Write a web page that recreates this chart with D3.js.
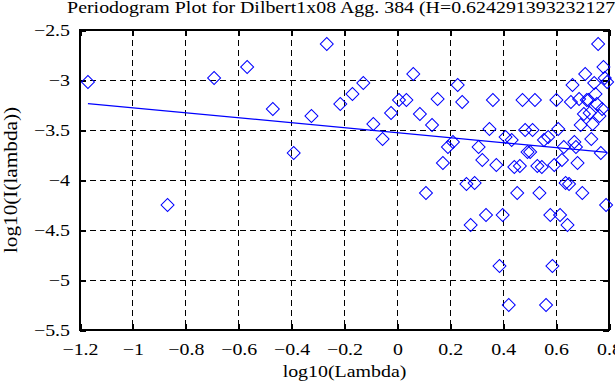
<!DOCTYPE html>
<html>
<head>
<title>Periodogram Plot</title>
<script src="https://d3js.org/d3.v7.min.js"></script>
<style>
  body { margin: 0; background: #fff; }
  text { font-family: "Liberation Serif", "Times New Roman", serif; fill: #000; }
</style>
</head>
<body>
<svg id="chart" width="615" height="385"></svg>
<script>
// log10 of the Fourier frequencies (k = 1..92)
const logLambda = [
  -1.170, -0.869, -0.693, -0.568, -0.471, -0.392, -0.325, -0.267, -0.216, -0.170,
  -0.129, -0.091, -0.056, -0.024, 0.006, 0.034, 0.060, 0.085, 0.108, 0.131,
  0.152, 0.172, 0.191, 0.210, 0.228, 0.245, 0.261, 0.277, 0.292, 0.307,
  0.321, 0.335, 0.348, 0.361, 0.374, 0.386, 0.398, 0.409, 0.421, 0.432,
  0.442, 0.453, 0.463, 0.473, 0.483, 0.492, 0.502, 0.511, 0.520, 0.529,
  0.537, 0.546, 0.554, 0.562, 0.570, 0.578, 0.586, 0.593, 0.601, 0.608,
  0.615, 0.622, 0.629, 0.636, 0.643, 0.649, 0.656, 0.662, 0.669, 0.675,
  0.681, 0.687, 0.693, 0.699, 0.705, 0.710, 0.716, 0.722, 0.727, 0.733,
  0.738, 0.744, 0.749, 0.754, 0.759, 0.764, 0.769, 0.774, 0.779, 0.784,
  0.789, 0.793
];

// log10 of the periodogram values
const logI = [
  -3.02, -4.25, -2.98, -2.87, -3.29, -3.73, -3.36, -2.64, -3.24, -3.14,
  -3.03, -3.44, -3.59, -3.33, -3.20, -3.20, -2.94, -3.34, -4.13, -3.45,
  -3.19, -3.83, -3.67, -3.62, -3.05, -3.22, -4.04, -4.45, -4.03, -3.67,
  -3.80, -4.35, -3.49, -3.20, -3.85, -4.86, -4.35, -3.57, -5.25, -3.60,
  -3.87, -4.13, -3.86, -3.20, -3.50, -3.72, -3.72, -3.50, -3.20, -3.86,
  -4.13, -3.87, -3.60, -5.25, -3.57, -4.35, -4.86, -3.85, -3.20, -3.49,
  -4.35, -3.80, -3.67, -4.03, -4.45, -4.04, -3.22, -3.05, -3.62, -3.67,
  -3.83, -3.19, -3.45, -4.13, -3.34, -2.94, -3.20, -3.20, -3.33, -3.59,
  -3.44, -3.03, -3.14, -3.24, -2.64, -3.36, -3.73, -3.29, -2.87, -2.98,
  -4.25, -3.02
];

const xTicks = [-1.2, -1, -0.8, -0.6, -0.4, -0.2, 0, 0.2, 0.4, 0.6, 0.8];
const yTicks = [-5.5, -5, -4.5, -4, -3.5, -3, -2.5];

// least squares fit (slope = 1 - 2H)
const fitIntercept = -3.527;
const fitSlope = -0.2486;

const titleText = "Periodogram Plot for Dilbert1x08 Agg. 384 (H=0.624291393232127)";
const xLabel = "log10(Lambda)";
const yLabel = "log10(I(lambda))";

const plotLeft = 80, plotRight = 609, plotTop = 30, plotBottom = 330;
const stretch = 1.17;   // glyphs in the picture are a bit wider than tall

const svg = d3.select('#chart');

const x = d3.scaleLinear().domain([-1.2, 0.8]).range([plotLeft, plotRight]);
const y = d3.scaleLinear().domain([-5.5, -2.5]).range([plotBottom, plotTop]);

const fmt = d => (d < 0 ? '\u2212' : '') + Math.abs(+d.toFixed(1));

// dashed grid
const grid = svg.append('g')
    .attr('stroke', '#000')
    .attr('stroke-width', 1)
    .attr('stroke-dasharray', '6,4')
    .attr('shape-rendering', 'crispEdges');
grid.selectAll('line.vx')
    .data(xTicks.slice(1, -1))
    .join('line')
    .attr('class', 'vx')
    .attr('x1', d => x(d)).attr('x2', d => x(d))
    .attr('y1', plotTop).attr('y2', plotBottom);
grid.selectAll('line.hy')
    .data(yTicks.slice(1, -1))
    .join('line')
    .attr('class', 'hy')
    .attr('y1', d => y(d)).attr('y2', d => y(d))
    .attr('x1', plotLeft).attr('x2', plotRight);

// axes with inward ticks
function styleAxis(g) {
    g.attr('font-size', null).attr('font-family', null);
    g.select('.domain').remove();
    g.selectAll('.tick line')
        .attr('stroke-width', 2)
        .attr('shape-rendering', 'crispEdges');
}

svg.append('g')
    .attr('transform', `translate(0,${plotBottom})`)
    .call(d3.axisBottom(x).tickValues(xTicks).tickSize(-6).tickSizeOuter(0).tickFormat(fmt))
    .call(styleAxis)
    .call(g => g.selectAll('text')
        .attr('y', 0).attr('dy', 0)
        .attr('transform', `translate(0,25) scale(${stretch},1)`)
        .style('font-size', '17px'));

svg.append('g')
    .attr('transform', `translate(0,${plotTop})`)
    .call(d3.axisTop(x).tickValues(xTicks).tickSize(-6).tickSizeOuter(0).tickFormat(''))
    .call(styleAxis);

svg.append('g')
    .attr('transform', `translate(${plotLeft},0)`)
    .call(d3.axisLeft(y).tickValues(yTicks).tickSize(-6).tickSizeOuter(0).tickFormat(fmt))
    .call(styleAxis)
    .call(g => g.selectAll('text')
        .attr('x', 0).attr('dy', '0.34em')
        .attr('transform', `translate(-10,0) scale(${stretch},1)`)
        .style('font-size', '17px'));

svg.append('g')
    .attr('transform', `translate(${plotRight},0)`)
    .call(d3.axisRight(y).tickValues(yTicks).tickSize(-6).tickSizeOuter(0).tickFormat(''))
    .call(styleAxis);

// frame
svg.append('rect')
    .attr('x', plotLeft).attr('y', plotTop)
    .attr('width', plotRight - plotLeft).attr('height', plotBottom - plotTop)
    .attr('fill', 'none')
    .attr('stroke', '#000')
    .attr('stroke-width', 2)
    .attr('shape-rendering', 'crispEdges');

// fitted line
const fitLine = d3.line()
    .x(d => x(d))
    .y(d => y(fitIntercept + fitSlope * d));
svg.append('path')
    .datum([logLambda[0], logLambda[logLambda.length - 1]])
    .attr('d', fitLine)
    .attr('fill', 'none')
    .attr('stroke', '#0000ff')
    .attr('stroke-width', 1.2);

// diamonds
const diamond = d3.symbol().type(d3.symbolSquare).size(84);
svg.append('g')
    .selectAll('path')
    .data(logLambda.map((v, i) => [v, logI[i]]))
    .join('path')
    .attr('d', diamond)
    .attr('transform', d => `translate(${x(d[0])},${y(d[1])}) rotate(45)`)
    .attr('fill', 'none')
    .attr('stroke', '#0000ff')
    .attr('stroke-width', 1);

// labels
svg.append('text')
    .attr('text-anchor', 'middle')
    .attr('transform', `translate(${(plotLeft + plotRight) / 2},13) scale(${stretch},1)`)
    .style('font-size', '17px')
    .text(titleText);

svg.append('text')
    .attr('text-anchor', 'middle')
    .attr('transform', `translate(${(plotLeft + plotRight) / 2},377) scale(${stretch},1)`)
    .style('font-size', '17px')
    .text(xLabel);

svg.append('text')
    .attr('text-anchor', 'middle')
    .attr('transform', `translate(17,${(plotTop + plotBottom) / 2}) rotate(-90) scale(1.25,1.1)`)
    .style('font-size', '17px')
    .text(yLabel);
</script>
</body>
</html>
